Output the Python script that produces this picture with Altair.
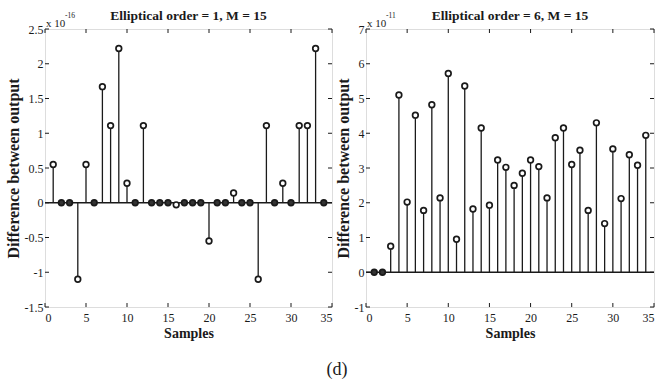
import altair as alt
import pandas as pd

samples = list(range(1, 35))
diff_order1 = [0.55, 0, 0, -1.1, 0.55, 0, 1.67, 1.11, 2.22, 0.28, 0, 1.11, 0, 0, 0, -0.03, 0,
               0, 0, -0.55, 0, 0, 0.14, 0, 0, -1.1, 1.11, 0, 0.28, 0, 1.11, 1.11, 2.22, 0]
diff_order6 = [0, 0, 0.75, 5.1, 2.02, 4.52, 1.78, 4.82, 2.14, 5.72, 0.95, 5.36, 1.82, 4.15, 1.93,
               3.23, 3.02, 2.5, 2.85, 3.23, 3.04, 2.14, 3.87, 4.15, 3.1, 3.51, 1.78, 4.3, 1.4,
               3.55, 2.12, 3.38, 3.08, 3.94]
x_ticks = [0, 5, 10, 15, 20, 25, 30, 35]
y_ticks1 = [-1.5, -1, -0.5, 0, 0.5, 1, 1.5, 2, 2.5]
y_ticks6 = [-1, 0, 1, 2, 3, 4, 5, 6, 7]
titles = ["Elliptical order = 1, M = 15", "Elliptical order = 6, M = 15"]
exponents = ["-16", "-11"]

SERIF = "Liberation Serif"
INK = "#1a1a1a"


def panel(values, ydom, yticks, title, expo, W, H, extra=None):
    df = pd.DataFrame({"s": samples, "v": values, "z": [v == 0 for v in values]})
    xs = alt.Scale(domain=[0, 35], nice=False, zero=False)
    ys = alt.Scale(domain=ydom, nice=False, zero=False)
    xax = alt.Axis(values=x_ticks, ticks=False, domain=False, grid=False, labelPadding=5,
                   labelFont=SERIF, labelFontSize=12, labelColor=INK, title="Samples",
                   titleFont=SERIF, titleFontSize=14, titleFontWeight="bold", titleColor=INK,
                   titlePadding=3, labelExpr="datum.value + ''", labelOverlap=False)
    yax = alt.Axis(values=yticks, ticks=False, domain=False, grid=False, labelPadding=2,
                   labelFont=SERIF, labelFontSize=12, labelColor=INK,
                   title="Difference between output", titleFont=SERIF, titleFontSize=16,
                   titleFontWeight="bold", titleColor=INK, titlePadding=3,
                   labelExpr="datum.value + ''", labelOverlap=False)

    def X(f):
        return alt.X(f, scale=xs, axis=xax)

    def Y(f):
        return alt.Y(f, scale=ys, axis=yax)

    base = alt.Chart(df)
    stems = base.mark_rule(color=INK, strokeWidth=1.3).encode(
        x=X("s:Q"), y=Y("v:Q"), y2=alt.datum(0))
    baseline = alt.Chart(pd.DataFrame({"b": [0]})).mark_rule(color=INK, strokeWidth=1.3).encode(
        y=Y("b:Q"), x=alt.value(0), x2=alt.value(W))
    dots = base.mark_point(shape="circle", size=32, strokeWidth=1.7, color=INK, opacity=1).encode(
        x=X("s:Q"), y=Y("v:Q"),
        fill=alt.condition("datum.z", alt.value("#333333"), alt.value("white")),
    )
    xt = pd.DataFrame({"t": x_ticks})
    yt = pd.DataFrame({"t": yticks})
    tb = alt.Chart(xt).mark_rule(color=INK).encode(
        x=X("t:Q"), y=alt.value(H), y2=alt.value(H - 4))
    tt = alt.Chart(xt).mark_rule(color=INK).encode(
        x=X("t:Q"), y=alt.value(0), y2=alt.value(4))
    tl = alt.Chart(yt).mark_rule(color=INK).encode(
        y=Y("t:Q"), x=alt.value(0), x2=alt.value(4))
    tr = alt.Chart(yt).mark_rule(color=INK).encode(
        y=Y("t:Q"), x=alt.value(W), x2=alt.value(W - 4))
    ann = pd.DataFrame({"a": [0]})
    x10 = alt.Chart(ann).mark_text(font=SERIF, fontSize=11, color=INK, align="left",
                                   baseline="alphabetic").encode(
        x=alt.value(1), y=alt.value(-2), text=alt.value("x 10"))
    sup = alt.Chart(ann).mark_text(font=SERIF, fontSize=7.5, color=INK, align="left",
                                   baseline="alphabetic").encode(
        x=alt.value(20), y=alt.value(-11), text=alt.value(expo))
    ttl = alt.Chart(ann).mark_text(font=SERIF, fontSize=13.5, fontWeight="bold", color=INK,
                                   align="center", baseline="alphabetic").encode(
        x=alt.value(W / 2), y=alt.value(-9), text=alt.value(title))
    layers = [stems, baseline, dots, tb, tt, tl, tr, x10, sup, ttl]
    if extra is not None:
        layers.append(extra)
    return alt.layer(*layers).properties(width=W, height=H)


W1, W2, H = 287, 288, 278
label_d = alt.Chart(pd.DataFrame({"a": [0]})).mark_text(
    font=SERIF, fontSize=18, color=INK, align="center", baseline="alphabetic").encode(
    x=alt.value(292), y=alt.value(346), text=alt.value("(d)"))

left = panel(diff_order1, [-1.5, 2.5], y_ticks1, titles[0], exponents[0], W1, H, extra=label_d)
right = panel(diff_order6, [-1, 7], y_ticks6, titles[1], exponents[1], W2, H)

chart = alt.hconcat(left, right, spacing=34, bounds="flush").properties(
    padding={"left": 4, "top": 8, "right": 4, "bottom": 3},
    autosize=alt.AutoSizeParams(type="pad"),
).configure_view(stroke=INK, strokeWidth=1.2).configure(background="white")

chart.save("out.html", embed_options={"renderer": "svg", "actions": False})
